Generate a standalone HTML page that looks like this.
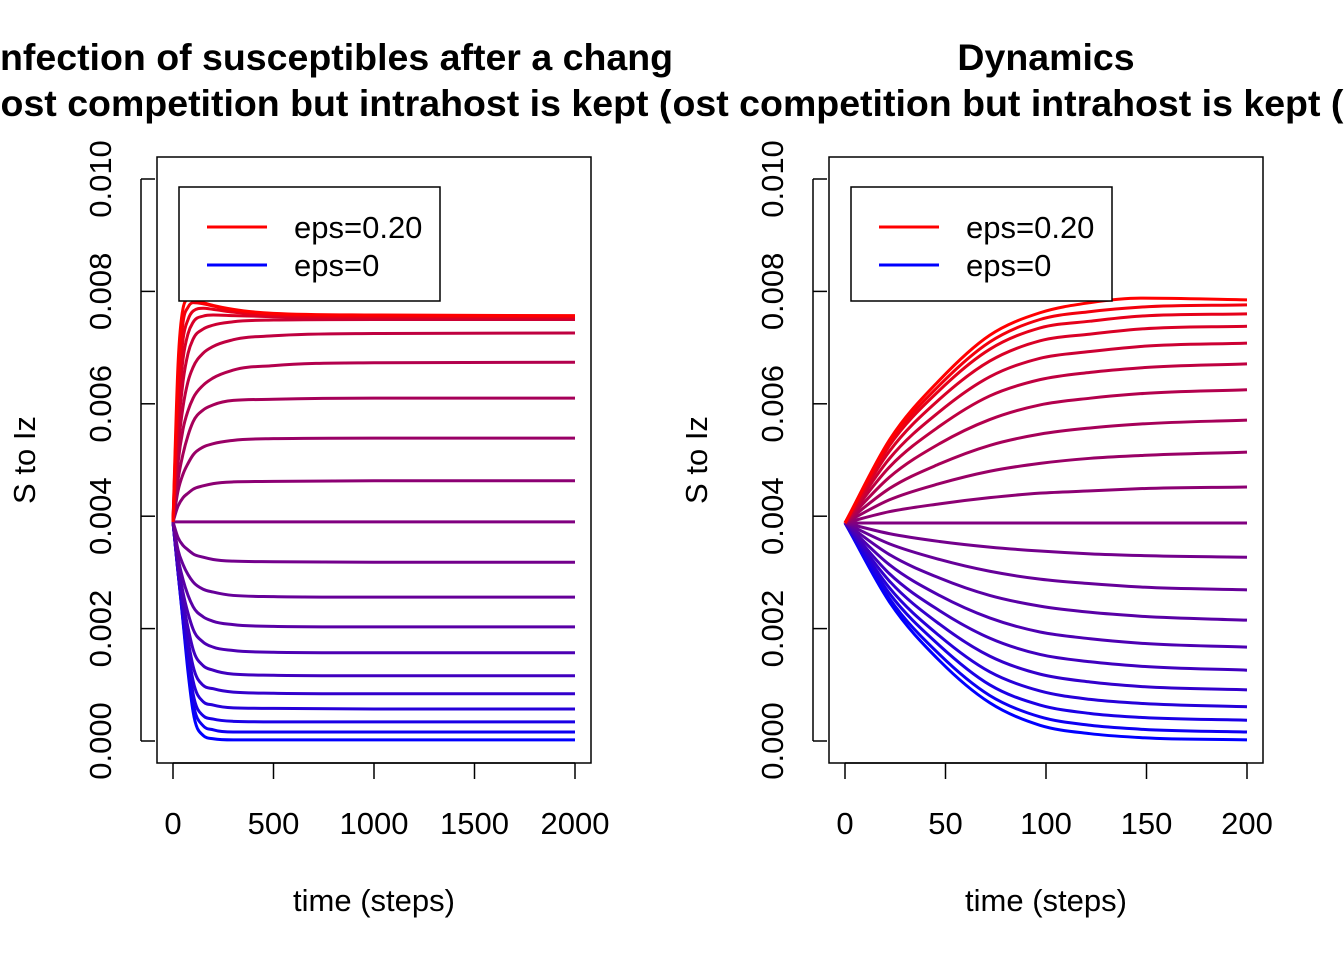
<!DOCTYPE html>
<html><head><meta charset="utf-8"><style>
html,body{margin:0;padding:0;background:#fff;}
svg{display:block;font-family:"Liberation Sans",Arial,sans-serif;}
</style></head><body>
<svg id="chart" width="1344" height="960" viewBox="0 0 1344 960">
<defs>
<clipPath id="clipL"><rect x="0" y="0" width="672" height="960"/></clipPath>
<clipPath id="clipR"><rect x="672" y="0" width="672" height="960"/></clipPath>
</defs>
<g id="panelL" clip-path="url(#clipL)"></g>
<g id="panelR" clip-path="url(#clipR)"></g>
</svg>
<script>
// ---- data ----
const yTicks = [0, 0.002, 0.004, 0.006, 0.008, 0.010];
const yTickLabels = ["0.000","0.002","0.004","0.006","0.008","0.010"];
const leftXTicks = [0, 500, 1000, 1500, 2000];
const rightXTicks = [0, 50, 100, 150, 200];
const leftTimes = [0, 25, 50, 75, 100, 150, 200, 300, 500, 1000, 2000];
const rightTimes = [0, 22, 47, 72, 97, 122, 147, 200];
// values in units of 1e-3, bottom (blue) to top (red)
const leftSeries = [
 [3.9,3.01,2.12,1.22,0.52,0.10,0.04,0.02,0.02,0.02,0.02],
 [3.9,3.00,2.14,1.32,0.68,0.27,0.20,0.16,0.16,0.16,0.16],
 [3.9,3.01,2.19,1.44,0.84,0.45,0.39,0.35,0.34,0.34,0.34],
 [3.9,3.00,2.27,1.60,1.07,0.70,0.64,0.59,0.58,0.57,0.57],
 [3.9,3.04,2.37,1.79,1.33,0.99,0.93,0.87,0.85,0.84,0.84],
 [3.9,3.08,2.48,2.01,1.63,1.34,1.26,1.19,1.17,1.16,1.16],
 [3.9,3.15,2.64,2.27,1.99,1.76,1.67,1.61,1.58,1.57,1.57],
 [3.9,3.26,2.87,2.59,2.39,2.21,2.13,2.07,2.04,2.03,2.03],
 [3.9,3.40,3.14,2.96,2.83,2.70,2.65,2.59,2.57,2.56,2.56],
 [3.9,3.62,3.48,3.40,3.33,3.27,3.23,3.20,3.19,3.18,3.18],
 [3.9,3.9,3.9,3.9,3.9,3.9,3.9,3.9,3.9,3.9,3.9],
 [3.9,4.18,4.33,4.41,4.48,4.54,4.58,4.61,4.62,4.63,4.63],
 [3.9,4.45,4.75,4.94,5.09,5.23,5.29,5.35,5.38,5.39,5.39],
 [3.9,4.65,5.11,5.44,5.68,5.89,5.98,6.06,6.08,6.10,6.10],
 [3.9,4.95,5.55,5.88,6.10,6.33,6.46,6.60,6.68,6.73,6.74],
 [3.9,5.20,5.95,6.40,6.65,6.90,7.02,7.14,7.21,7.25,7.26],
 [3.9,5.50,6.40,6.90,7.15,7.33,7.40,7.46,7.49,7.50,7.50],
 [3.9,5.80,6.80,7.25,7.45,7.56,7.58,7.57,7.55,7.53,7.53],
 [3.9,6.10,7.15,7.50,7.65,7.70,7.68,7.63,7.58,7.55,7.55],
 [3.9,6.40,7.45,7.72,7.80,7.78,7.74,7.67,7.60,7.57,7.56],
 [3.9,6.70,7.70,7.85,7.85,7.80,7.75,7.68,7.61,7.58,7.57]
];
const rightSeries = [
 [3.88,2.48,1.43,0.68,0.28,0.13,0.06,0.02],
 [3.88,2.54,1.54,0.81,0.43,0.28,0.21,0.16],
 [3.88,2.63,1.70,1.00,0.64,0.49,0.42,0.37],
 [3.88,2.73,1.87,1.23,0.89,0.74,0.67,0.61],
 [3.88,2.85,2.08,1.51,1.19,1.05,0.97,0.91],
 [3.88,2.98,2.32,1.83,1.54,1.41,1.33,1.26],
 [3.88,3.14,2.59,2.19,1.94,1.82,1.74,1.67],
 [3.88,3.32,2.90,2.59,2.40,2.29,2.22,2.15],
 [3.88,3.51,3.23,3.02,2.88,2.80,2.74,2.69],
 [3.88,3.69,3.55,3.45,3.38,3.33,3.30,3.27],
 [3.88,3.88,3.88,3.88,3.88,3.88,3.88,3.88],
 [3.88,4.08,4.22,4.33,4.41,4.45,4.49,4.52],
 [3.88,4.29,4.58,4.80,4.94,5.03,5.08,5.14],
 [3.88,4.49,4.93,5.26,5.46,5.57,5.64,5.71],
 [3.88,4.69,5.29,5.72,5.98,6.10,6.18,6.25],
 [3.88,4.87,5.60,6.14,6.43,6.56,6.64,6.71],
 [3.88,5.02,5.86,6.48,6.81,6.93,7.02,7.08],
 [3.88,5.15,6.08,6.76,7.12,7.24,7.33,7.38],
 [3.88,5.25,6.24,6.97,7.35,7.47,7.56,7.60],
 [3.88,5.30,6.33,7.10,7.50,7.64,7.72,7.76],
 [3.88,5.35,6.42,7.22,7.62,7.80,7.88,7.85]
];
const legendLabels = ["eps=0.20","eps=0"];

// ---- drawing ----
const NS="http://www.w3.org/2000/svg";
function mk(tag, attrs, parent, text){
  const e=document.createElementNS(NS,tag);
  for(const k in attrs) e.setAttribute(k, attrs[k]);
  if(text!==undefined) e.textContent=text;
  parent.appendChild(e); return e;
}
function yScale(v){ return 741 - v/0.010*562; }
function smoothPath(pts){
  const n=pts.length, dx=[], m=[], t=new Array(n);
  for(let i=0;i<n-1;i++){ dx.push(pts[i+1][0]-pts[i][0]); m.push((pts[i+1][1]-pts[i][1])/dx[i]); }
  t[0]=m[0]; t[n-1]=m[n-2];
  for(let i=1;i<n-1;i++){
    if(m[i-1]*m[i]<=0) t[i]=0;
    else {
      const a=(m[i-1]*dx[i]+m[i]*dx[i-1])/(dx[i-1]+dx[i]);
      const lim=3*Math.min(Math.abs(m[i-1]),Math.abs(m[i]));
      t[i]=Math.sign(a)*Math.min(Math.abs(a),lim);
    }
  }
  let d="M"+pts[0][0].toFixed(2)+","+pts[0][1].toFixed(2);
  for(let i=0;i<n-1;i++){
    const h=dx[i]/3;
    d+=" C"+(pts[i][0]+h).toFixed(2)+","+(pts[i][1]+t[i]*h).toFixed(2)+" "+
      (pts[i+1][0]-h).toFixed(2)+","+(pts[i+1][1]-t[i+1]*h).toFixed(2)+" "+
      pts[i+1][0].toFixed(2)+","+pts[i+1][1].toFixed(2);
  }
  return d;
}
function color(i,n){ const f=i/(n-1); return "rgb("+Math.round(255*f)+",0,"+Math.round(255*(1-f))+")"; }

function panel(g, ox, xmax, xTicks, times, series, title1, title2){
  const left=ox+157, right=ox+591, top=157, bottom=763;
  const x0=ox+173, x1=ox+575;
  const xs=v=>x0+(v/xmax)*(x1-x0);
  const cx=(left+right)/2;
  let t=mk("text",{x:cx,y:70,"text-anchor":"middle","font-size":"37.5","font-weight":"bold",fill:"#000"},g,title1);
  
  
  t=mk("text",{x:cx,y:116,"text-anchor":"middle","font-size":"37.5","font-weight":"bold",fill:"#000"},g,title2);
  
  
  const sg=mk("g",{},g);
  
  
  series.forEach((s,i)=>{
    const pts=s.map((v,j)=>[xs(times[j]), yScale(v*0.001)]);
    const p=mk("path",{d:smoothPath(pts),fill:"none",stroke:color(i,series.length),"stroke-width":"3","stroke-linejoin":"round"},sg);
    
    
  });
  const box=mk("rect",{x:left,y:top,width:right-left,height:bottom-top,fill:"none",stroke:"#000","stroke-width":"1.5"},g);
  
  
  const ya=mk("g",{},g);
  
  
  mk("line",{x1:left-16,x2:left-16,y1:yScale(0),y2:yScale(0.010),stroke:"#000","stroke-width":"1.5"},ya);
  yTicks.forEach((v,i)=>{
    const y=yScale(v);
    mk("line",{x1:left-16,x2:left-2,y1:y,y2:y,stroke:"#000","stroke-width":"1.5"},ya);
    const l=mk("text",{x:0,y:0,transform:"translate("+(ox+111)+","+y+") rotate(-90)","text-anchor":"middle","font-size":"31"},ya,yTickLabels[i]);
    
    
  });
  const yt=mk("text",{x:0,y:0,transform:"translate("+(ox+35)+",460) rotate(-90)","text-anchor":"middle","font-size":"31"},g,"S to Iz");
  
  
  const xa=mk("g",{},g);
  
  
  mk("line",{x1:x0,x2:x1,y1:bottom,y2:bottom,stroke:"#000","stroke-width":"1.5"},xa);
  xTicks.forEach(v=>{
    const x=xs(v);
    mk("line",{x1:x,x2:x,y1:bottom,y2:bottom+16,stroke:"#000","stroke-width":"1.5"},xa);
    const l=mk("text",{x:x,y:834,"text-anchor":"middle","font-size":"31"},xa,String(v));
    
    
  });
  const xt=mk("text",{x:cx,y:911,"text-anchor":"middle","font-size":"31"},g,"time (steps)");
  
  
  const lg=mk("g",{},g);
  
  
  mk("rect",{x:ox+179,y:187,width:261,height:114,fill:"#fff",stroke:"#000","stroke-width":"1.5"},lg);
  const cols=["#ff0000","#0000ff"];
  [227,265].forEach((y,i)=>{
    const e=mk("g",{},lg);
    
    
    mk("line",{x1:ox+207,x2:ox+267,y1:y,y2:y,stroke:cols[i],"stroke-width":"3"},e);
    mk("text",{x:ox+294,y:y+11,"font-size":"31"},e,legendLabels[i]);
  });
}
panel(document.getElementById("panelL"),0,2000,leftXTicks,leftTimes,leftSeries,
  "Infection of susceptibles after a change in i","host competition but intrahost is kept (eps=)");
panel(document.getElementById("panelR"),672,200,rightXTicks,rightTimes,rightSeries,
  "Dynamics","host competition but intrahost is kept (eps=)");
</script>
</body></html>
